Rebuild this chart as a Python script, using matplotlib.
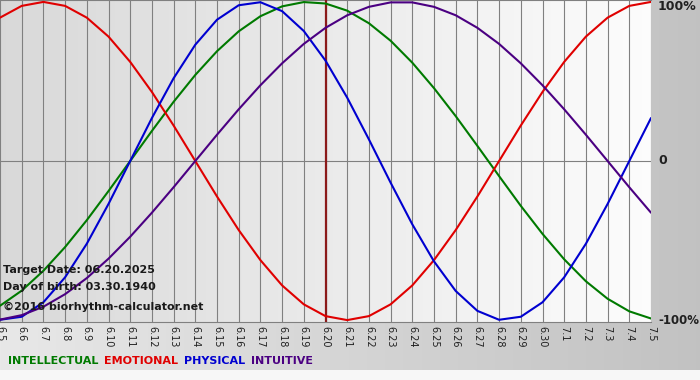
import numpy as np
import matplotlib
matplotlib.use("Agg")
import matplotlib.pyplot as plt

# dates 6.5 .. 7.5, one tick per day
days = ["6.5", "6.6", "6.7", "6.8", "6.9", "6.10", "6.11", "6.12", "6.13", "6.14",
        "6.15", "6.16", "6.17", "6.18", "6.19", "6.20", "6.21", "6.22", "6.23", "6.24",
        "6.25", "6.26", "6.27", "6.28", "6.29", "6.30", "7.1", "7.2", "7.3", "7.4", "7.5"]
target_day = "6.20"

# values (-1 .. 1)
intellectual = [-0.91, -0.815, -0.69, -0.541, -0.372, -0.189, 0.0, 0.189, 0.372, 0.541,
                0.69, 0.815, 0.91, 0.972, 0.999, 0.99, 0.945, 0.866, 0.756, 0.618,
                0.458, 0.282, 0.095, -0.095, -0.282, -0.458, -0.618, -0.756, -0.866, -0.945, -0.99]
emotional = [0.901, 0.975, 1.0, 0.975, 0.901, 0.782, 0.623, 0.434, 0.223, 0.0,
             -0.223, -0.434, -0.623, -0.782, -0.901, -0.975, -1.0, -0.975, -0.901, -0.782,
             -0.623, -0.434, -0.223, 0.0, 0.223, 0.434, 0.623, 0.782, 0.901, 0.975, 1.0]
physical = [-0.998, -0.979, -0.888, -0.731, -0.52, -0.27, 0.0, 0.27, 0.52, 0.731,
            0.888, 0.979, 0.998, 0.942, 0.817, 0.631, 0.398, 0.136, -0.136, -0.398,
            -0.631, -0.817, -0.942, -0.998, -0.979, -0.888, -0.731, -0.52, -0.27, 0.0, 0.27]
intuitive = [-0.997, -0.969, -0.916, -0.837, -0.736, -0.614, -0.476, -0.325, -0.165, 0.0,
             0.165, 0.325, 0.476, 0.614, 0.736, 0.837, 0.916, 0.969, 0.997, 0.997,
             0.969, 0.916, 0.837, 0.736, 0.614, 0.476, 0.325, 0.165, 0.0, -0.165, -0.325]

series = [("INTELLECTUAL", intellectual, "#007a00"),
          ("EMOTIONAL", emotional, "#e00000"),
          ("PHYSICAL", physical, "#0000d0"),
          ("INTUITIVE", intuitive, "#4b0082")]

W, H = 700, 380
fig = plt.figure(figsize=(W / 100, H / 100), dpi=100)

# outer gray panel
bg = fig.add_axes([0, 0, 1, 1], zorder=-2)
shade = np.linspace(0.91, 0.76, W)
img = np.tile(shade, (H, 1))
img[370:, :] = 0.97
bg.imshow(np.dstack([img] * 3), aspect="auto", extent=[0, W, H, 0])
bg.set_xlim(0, W)
bg.set_ylim(H, 0)
bg.axis("off")

# plot area
px0, px1, py0, py1 = 0, 651, 0, 322
ax = fig.add_axes([px0 / W, 1 - py1 / H, (px1 - px0) / W, (py1 - py0) / H])
ax.set_facecolor("none")
x = np.arange(len(days))
ax.set_xlim(0, len(days) - 1)
ax.set_ylim(-1.012, 1.012)
grad = np.tile(np.linspace(0.85, 0.99, 300), (2, 1))
ax.imshow(np.dstack([grad] * 3), aspect="auto", extent=[0, len(days) - 1, -1.012, 1.012],
          zorder=0)

for xi in x:
    ax.axvline(xi, color="#808080", lw=0.8, zorder=1)
ax.axhline(0, color="#808080", lw=0.8, zorder=1)
ax.axvline(days.index(target_day), color="#8b1a1a", lw=1.6, zorder=3)

for name, vals, col in series:
    ax.plot(x, vals, color=col, lw=1.5, zorder=4, solid_capstyle="round")

for s in ["top", "bottom"]:
    ax.spines[s].set_color("#808080")
    ax.spines[s].set_linewidth(0.8)
for s in ["left", "right"]:
    ax.spines[s].set_visible(False)

ax.set_xticks(x)
ax.set_xticklabels(days, rotation=-90, fontsize=7, color="#202020")
ax.tick_params(axis="x", length=0, pad=3)
ax.set_yticks([])

# right side labels
fig.text(658 / W, 1 - 7 / H, "100%", fontsize=9, fontweight="bold", va="center", color="#202020")
fig.text(658 / W, 1 - 161 / H, "0", fontsize=9, fontweight="bold", va="center", color="#202020")
fig.text(699 / W, 1 - 321 / H, "-100%", fontsize=8.5, fontweight="bold", va="center",
         ha="right", color="#202020")

# info text
fig.text(3 / W, 1 - 270 / H, "Target Date: 06.20.2025", fontsize=8, fontweight="bold",
         va="center", color="#1a1a1a", zorder=5)
fig.text(3 / W, 1 - 287 / H, "Day of birth: 03.30.1940", fontsize=8, fontweight="bold",
         va="center", color="#1a1a1a", zorder=5)
fig.text(3 / W, 1 - 307 / H, "\u00a92016 biorhythm-calculator.net", fontsize=8,
         fontweight="bold", va="center", color="#1a1a1a", zorder=5)

# legend line
xpos = 8
for name, vals, col in series:
    t = fig.text(xpos / W, 1 - 361 / H, name, fontsize=8, fontweight="bold", color=col,
                 va="center")
    fig.canvas.draw()
    bb = t.get_window_extent()
    xpos = bb.x1 + 6

fig.savefig("out.png", dpi=100)
